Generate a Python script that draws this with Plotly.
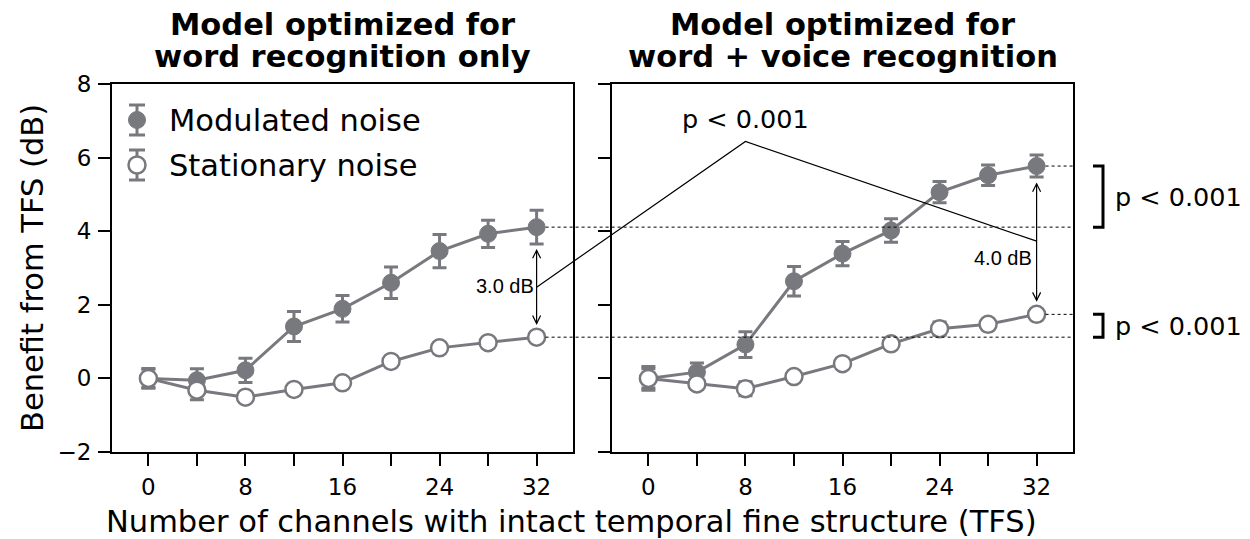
import plotly.graph_objects as go

# ---------------- data ----------------
channels = [0, 4, 8, 12, 16, 20, 24, 28, 32]
tick_vals = [0, 4, 8, 12, 16, 20, 24, 28, 32]
tick_text = ["0", "", "8", "", "16", "", "24", "", "32"]

word_mod = [0.0, -0.05, 0.22, 1.41, 1.89, 2.60, 3.46, 3.93, 4.11]
word_mod_err = [0.27, 0.31, 0.33, 0.41, 0.36, 0.43, 0.45, 0.37, 0.46]
word_stat = [0.0, -0.32, -0.51, -0.30, -0.12, 0.46, 0.83, 0.97, 1.12]
word_stat_err = [0.25, 0.26, 0.12, 0.12, 0.10, 0.12, 0.12, 0.12, 0.12]

voice_mod = [0.0, 0.17, 0.92, 2.64, 3.39, 4.02, 5.06, 5.52, 5.77]
voice_mod_err = [0.32, 0.25, 0.35, 0.40, 0.33, 0.32, 0.29, 0.28, 0.30]
voice_stat = [0.0, -0.15, -0.28, 0.05, 0.40, 0.94, 1.35, 1.47, 1.74]
voice_stat_err = [0.26, 0.15, 0.19, 0.12, 0.12, 0.12, 0.18, 0.12, 0.12]

title_lines = [["Model optimized for", "word recognition only"],
               ["Model optimized for", "word + voice recognition"]]
series_names = ["Modulated noise", "Stationary noise"]

# ---------------- layout constants ----------------
W, H = 1250, 539
GRAY = "#78787f"
XR = [-3, 35]
YR = [-2, 8]
dom1 = [112 / W, 573 / W]
dom2 = [612 / W, 1073 / W]
ydom = [1 - 452 / H, 1 - 84 / H]
FONT = "DejaVu Sans"
BIG = 30.5
MID = 25.5
TICK = 23


def xpaper(dom, xv):
    return dom[0] + (xv - XR[0]) / (XR[1] - XR[0]) * (dom[1] - dom[0])


fig = go.Figure()


def add_panel(xa, ya, mod, mod_err, stat, stat_err):
    fig.add_trace(go.Scatter(
        x=channels, y=mod, xaxis=xa, yaxis=ya, mode="lines+markers", name=series_names[0],
        line=dict(color=GRAY, width=3),
        marker=dict(color=GRAY, size=17, line=dict(color=GRAY, width=1)),
        error_y=dict(type="data", array=mod_err, color=GRAY, thickness=3, width=7),
        showlegend=False, cliponaxis=False))
    fig.add_trace(go.Scatter(
        x=channels, y=stat, xaxis=xa, yaxis=ya, mode="lines+markers", name=series_names[1],
        line=dict(color=GRAY, width=3),
        marker=dict(color="white", size=17, line=dict(color=GRAY, width=2.5)),
        error_y=dict(type="data", array=stat_err, color=GRAY, thickness=3, width=7),
        showlegend=False, cliponaxis=False))


add_panel("x", "y", word_mod, word_mod_err, word_stat, word_stat_err)
add_panel("x2", "y2", voice_mod, voice_mod_err, voice_stat, voice_stat_err)

axis_common = dict(
    showline=True, linecolor="black", linewidth=2, mirror=True,
    ticks="outside", ticklen=12, tickwidth=2, tickcolor="black",
    showgrid=False, zeroline=False, automargin=False,
    tickfont=dict(family=FONT, size=TICK, color="black"),
)

fig.update_layout(
    width=W, height=H, margin=dict(l=0, r=0, t=0, b=0, pad=0, autoexpand=False),
    paper_bgcolor="white", plot_bgcolor="white", showlegend=False,
    xaxis=dict(domain=dom1, range=XR, tickmode="array", tickvals=tick_vals,
               ticktext=tick_text, anchor="y", ticklabelstandoff=1, **axis_common),
    yaxis=dict(domain=ydom, range=YR, dtick=2, tick0=0, anchor="x",
               ticklabelstandoff=2, **axis_common),
    xaxis2=dict(domain=dom2, range=XR, tickmode="array", tickvals=tick_vals,
                ticktext=tick_text, anchor="y2", ticklabelstandoff=1, **axis_common),
    yaxis2=dict(domain=ydom, range=YR, dtick=2, tick0=0, anchor="x2",
                showticklabels=False, **axis_common),
    font=dict(family=FONT, color="black"),
)

shapes = []
annots = []

# ---- custom legend (marker with error bar glyph + label) ----
leg_x = 137 / W
leg_rows = [120, 165]
for name, row, filled in zip(series_names, leg_rows, [True, False]):
    yc = 1 - row / H
    eh = 15 / H
    cw = 8 / W
    shapes.append(dict(type="line", xref="paper", yref="paper", x0=leg_x, x1=leg_x,
                       y0=yc - eh, y1=yc + eh, line=dict(color=GRAY, width=3)))
    for yy in (yc - eh, yc + eh):
        shapes.append(dict(type="line", xref="paper", yref="paper", x0=leg_x - cw, x1=leg_x + cw,
                           y0=yy, y1=yy, line=dict(color=GRAY, width=3)))
    r_x = 8.5 / W
    r_y = 8.5 / H
    shapes.append(dict(type="circle", xref="paper", yref="paper",
                       x0=leg_x - r_x, x1=leg_x + r_x, y0=yc - r_y, y1=yc + r_y,
                       fillcolor=GRAY if filled else "white",
                       line=dict(color=GRAY, width=1 if filled else 2.5)))
    annots.append(dict(xref="paper", yref="paper", x=167 / W, y=yc, xanchor="left",
                       yanchor="middle", showarrow=False, text=name,
                       font=dict(family=FONT, size=BIG, color="black")))

# titles (one annotation per line to control spacing)
for dom, lines in zip([dom1, dom2], title_lines):
    for ln, ymid in zip(lines, [24, 57]):
        annots.append(dict(xref="paper", yref="paper", x=(dom[0] + dom[1]) / 2, y=1 - ymid / H,
                           xanchor="center", yanchor="middle", showarrow=False,
                           text="<b>" + ln + "</b>",
                           font=dict(family=FONT, size=BIG, color="black")))

# axis titles
annots.append(dict(xref="paper", yref="paper", x=571 / W, y=1 - 521 / H,
                   xanchor="center", yanchor="middle", showarrow=False,
                   text="Number of channels with intact temporal fine structure (TFS)",
                   font=dict(family=FONT, size=BIG, color="black")))
annots.append(dict(xref="paper", yref="paper", x=32 / W, y=(ydom[0] + ydom[1]) / 2,
                   xanchor="center", yanchor="middle", showarrow=False, textangle=-90,
                   text="Benefit from TFS (dB)",
                   font=dict(family=FONT, size=BIG, color="black")))

dot = dict(color="black", width=1, dash="dot")
# dotted reference lines
xs_left = xpaper(dom1, channels[-1]) + 9 / W
xs_right = xpaper(dom2, channels[-1]) + 9 / W
for yv in [word_mod[-1], word_stat[-1]]:
    shapes.append(dict(type="line", xref="paper", yref="y", x0=xs_left, x1=dom2[1],
                       y0=yv, y1=yv, line=dot))
for yv in [voice_mod[-1], voice_stat[-1]]:
    shapes.append(dict(type="line", xref="paper", yref="y", x0=xs_right, x1=dom2[1],
                       y0=yv, y1=yv, line=dot))

# double arrows
px_per_y = (452 - 84) / (YR[1] - YR[0])
px_per_x = (573 - 112) / (XR[1] - XR[0])


def double_arrow(xa, ya, xv, ytop, ybot):
    dx = 4 / px_per_x
    dy = 8 / px_per_y
    shapes.append(dict(type="line", xref=xa, yref=ya, x0=xv, x1=xv, y0=ytop, y1=ybot,
                       line=dict(color="black", width=1.2)))
    shapes.append(dict(type="path", xref=xa, yref=ya,
                       path=f"M {xv-dx},{ytop-dy} L {xv},{ytop} L {xv+dx},{ytop-dy}",
                       line=dict(color="black", width=1.2)))
    shapes.append(dict(type="path", xref=xa, yref=ya,
                       path=f"M {xv-dx},{ybot+dy} L {xv},{ybot} L {xv+dx},{ybot+dy}",
                       line=dict(color="black", width=1.2)))


gap_word = word_mod[-1] - word_stat[-1]
gap_voice = voice_mod[-1] - voice_stat[-1]
double_arrow("x", "y", channels[-1], word_mod[-1] - 0.63, word_stat[-1] + 0.37)
double_arrow("x2", "y2", channels[-1], voice_mod[-1] - 0.48, voice_stat[-1] + 0.38)

annots.append(dict(xref="x", yref="y", x=channels[-1], y=(word_mod[-1] + word_stat[-1]) / 2 - 0.1,
                   xanchor="right", yanchor="middle", xshift=-1, showarrow=False,
                   text=f"{gap_word:.1f} dB",
                   font=dict(family="Liberation Sans", size=20, color="black")))
annots.append(dict(xref="x2", yref="y2", x=channels[-1], y=3.27,
                   xanchor="right", yanchor="middle", xshift=-3, showarrow=False,
                   text=f"{gap_voice:.1f} dB",
                   font=dict(family="Liberation Sans", size=20, color="black")))

# V-shaped connector
x_a = xpaper(dom1, channels[-1])
x_b = xpaper(dom2, 8)
x_c = xpaper(dom2, channels[-1])
shapes.append(dict(type="path", xref="paper", yref="y",
                   path=f"M {x_a},2.48 L {x_b},6.44 L {x_c},3.73",
                   line=dict(color="black", width=1.2)))
annots.append(dict(xref="x2", yref="y2", x=8, y=7.04, xanchor="center", yanchor="middle",
                   showarrow=False, text="p &lt; 0.001",
                   font=dict(family=FONT, size=MID, color="black")))

# right-side brackets
bx0 = 1093 / W
bx1 = 1103 / W
for ytop, ybot in [(voice_mod[-1], word_mod[-1]), (voice_stat[-1], word_stat[-1])]:
    shapes.append(dict(type="path", xref="paper", yref="y",
                       path=f"M {bx0},{ytop} L {bx1},{ytop} L {bx1},{ybot} L {bx0},{ybot}",
                       line=dict(color="black", width=3)))
    annots.append(dict(xref="paper", yref="y", x=1113 / W, y=(ytop + ybot) / 2,
                       xanchor="left", yanchor="middle", showarrow=False, text="p &lt; 0.001",
                       font=dict(family=FONT, size=MID, color="black")))

fig.update_layout(shapes=shapes, annotations=annots)
fig.write_html("out.html")
